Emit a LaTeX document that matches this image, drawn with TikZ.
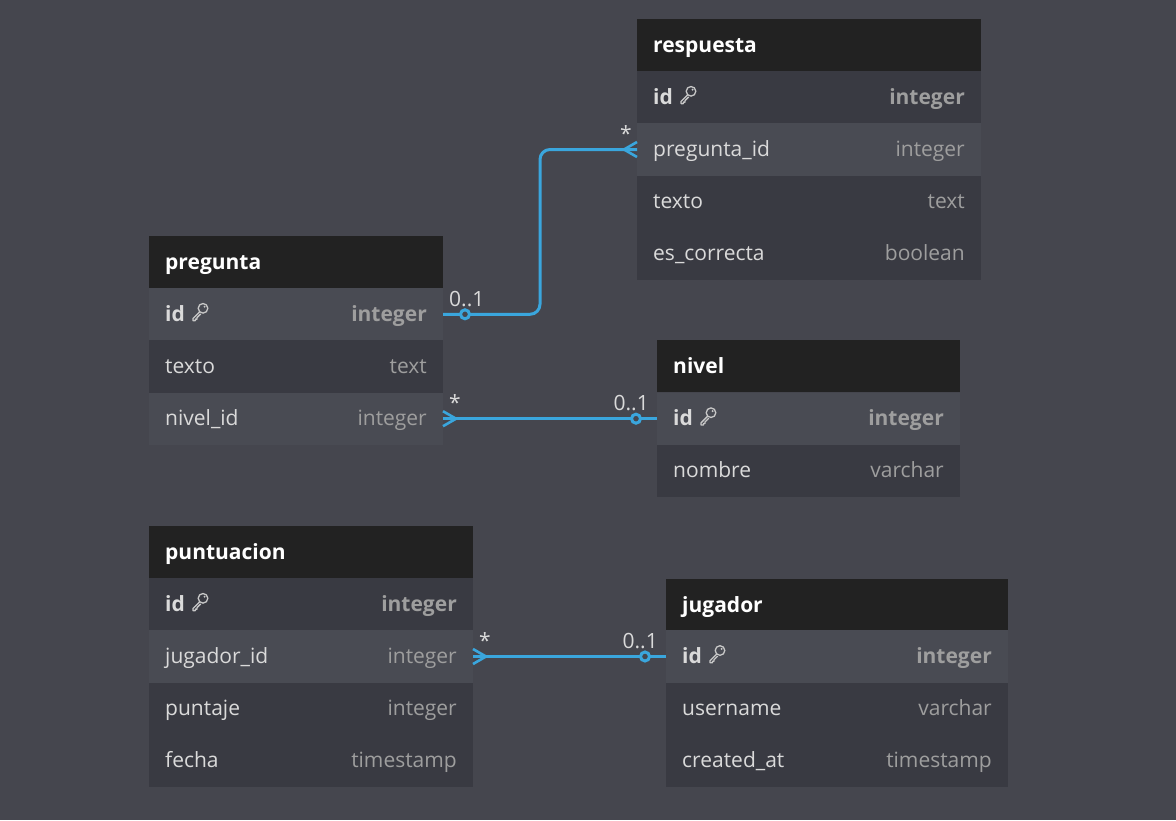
\documentclass[tikz,border=0pt]{standalone}
\usepackage{fontspec}
\setmainfont{Open Sans}
\usetikzlibrary{calc}
\definecolor{bg}{HTML}{45464E}
\definecolor{headfill}{HTML}{222222}
\definecolor{rowdark}{HTML}{393A42}
\definecolor{rowlight}{HTML}{494B53}
\definecolor{relblue}{HTML}{3AA6DD}
\definecolor{fieldtxt}{HTML}{DADADA}
\definecolor{typetxt}{HTML}{9E9E9E}
\definecolor{labtxt}{HTML}{DADADA}
\definecolor{keycol}{HTML}{C8C8C8}
\tikzset{
 x=1pt,y=-1pt,
 cellbox/.style={anchor=north west, minimum height=52.2pt, inner sep=0, outer sep=0, draw=none},
 headbox/.style={cellbox, fill=headfill},
 darkrow/.style={cellbox, fill=rowdark},
 lightrow/.style={cellbox, fill=rowlight},
 headtext/.style={anchor=base west, inner sep=0, text=white, font=\fontsize{21}{25}\selectfont\bfseries},
 fieldtext/.style={anchor=base west, inner sep=0, text=fieldtxt, font=\fontsize{21}{25}\selectfont},
 typetext/.style={anchor=base east, inner sep=0, text=typetxt, font=\fontsize{21}{25}\selectfont},
 pkfield/.style={fieldtext, font=\fontsize{21}{25}\selectfont\bfseries},
 pktype/.style={typetext, font=\fontsize{21}{25}\selectfont\bfseries},
 rel/.style={draw=relblue, line width=3pt},
 crow/.style={draw=relblue, line width=2.6pt, line join=miter},
 card/.style={inner sep=0, text=labtxt, font=\fontsize{21}{25}\selectfont},
 keyicon/.pic={
   \draw[keycol, line width=1.3pt] (12,-6) circle[radius=4.8pt];
   \fill[keycol] (13.6,-7.6) circle[radius=1.1pt];
   \draw[keycol, line width=1.3pt, line join=round, line cap=round] (8.6,-2.4) -- (2,4.2) -- (2,6.3) -- (4.4,6.3) -- (4.4,4.8) -- (6,4.8) -- (6,3.3) -- (9.6,-0.3);
 },
}
\newcommand\erhead[5]{%
 \node[headbox, minimum width=#4pt] (#1) at (#2,#3) {};
 \node[headtext] (#1-title) at ($(#1.west)+(16,7)$) {#5};}
\newcommand\errow[7]{%
 \node[#5, minimum width=#4pt] (#1) at (#2,#3) {};
 \node[fieldtext] (#1-name) at ($(#1.west)+(16,7)$) {#6};
 \node[typetext] (#1-type) at ($(#1.east)+(-16,7)$) {#7};}
\newcommand\pkrow[6]{%
 \node[#5, minimum width=#4pt] (#1) at (#2,#3) {};
 \node[pkfield] (#1-name) at ($(#1.west)+(16,7)$) {id};
 \pic at ($(#1.west)+(42,0)$) {keyicon};
 \node[pktype] (#1-type) at ($(#1.east)+(-16,7)$) {#6};}
\begin{document}
\begin{tikzpicture}
\fill[bg] (0,0) rectangle (1176,820);
\useasboundingbox (0,0) rectangle (1176,820);

% respuesta
\erhead{respuesta}{637}{19}{344}{respuesta}
\pkrow{respuesta-id}{637}{71.2}{344}{darkrow}{integer}
\errow{respuesta-pid}{637}{123.4}{344}{lightrow}{pregunta\_id}{integer}
\errow{respuesta-texto}{637}{175.6}{344}{darkrow}{texto}{text}
\errow{respuesta-es}{637}{227.8}{344}{darkrow}{es\_correcta}{boolean}

% pregunta
\erhead{pregunta}{149}{236}{294}{pregunta}
\pkrow{pregunta-id}{149}{288.2}{294}{lightrow}{integer}
\errow{pregunta-texto}{149}{340.4}{294}{darkrow}{texto}{text}
\errow{pregunta-nivel}{149}{392.6}{294}{lightrow}{nivel\_id}{integer}

% nivel
\erhead{nivel}{657}{340}{303}{nivel}
\pkrow{nivel-id}{657}{392.6}{303}{lightrow}{integer}
\errow{nivel-nombre}{657}{444.8}{303}{darkrow}{nombre}{varchar}

% puntuacion
\erhead{puntuacion}{149}{526}{324}{puntuacion}
\pkrow{puntuacion-id}{149}{578.2}{324}{darkrow}{integer}
\errow{puntuacion-jug}{149}{630.4}{324}{lightrow}{jugador\_id}{integer}
\errow{puntuacion-puntaje}{149}{682.6}{324}{darkrow}{puntaje}{integer}
\errow{puntuacion-fecha}{149}{734.8}{324}{darkrow}{fecha}{timestamp}

% jugador
\erhead{jugador}{666}{579}{342}{jugador}
\pkrow{jugador-id}{666}{630.4}{342}{lightrow}{integer}
\errow{jugador-user}{666}{682.6}{342}{darkrow}{username}{varchar}
\errow{jugador-created}{666}{734.8}{342}{darkrow}{created\_at}{timestamp}

% relation 1: pregunta.id -- respuesta.pregunta_id
\draw[rel, rounded corners=10pt] (pregunta-id.east) -| ($(pregunta-id.east)!0.5!(respuesta-pid.west)$) |- (respuesta-pid.west);
\draw[crow] ($(respuesta-pid.west)+(0,-7.5)$) -- ($(respuesta-pid.west)+(-13,0)$) -- ($(respuesta-pid.west)+(0,7.5)$);
\draw[rel, fill=bg] ($(pregunta-id.east)+(22,0)$) circle[radius=4.5pt];
\node[card, anchor=base west] (c1a) at ($(pregunta-id.east)+(6,-8)$) {0..1};
\node[card, anchor=base east] (c1b) at ($(respuesta-pid.west)+(-5,-8)$) {*};

% relation 2: pregunta.nivel_id -- nivel.id
\draw[rel] (pregunta-nivel.east) -- (nivel-id.west);
\draw[crow] ($(pregunta-nivel.east)+(0,-7.5)$) -- ($(pregunta-nivel.east)+(13,0)$) -- ($(pregunta-nivel.east)+(0,7.5)$);
\draw[rel, fill=bg] ($(nivel-id.west)+(-21,0)$) circle[radius=4.5pt];
\node[card, anchor=base west] (c2a) at ($(pregunta-nivel.east)+(6,-8)$) {*};
\node[card, anchor=base east] (c2b) at ($(nivel-id.west)+(-8,-8)$) {0..1};

% relation 3: puntuacion.jugador_id -- jugador.id
\draw[rel] (puntuacion-jug.east) -- (jugador-id.west);
\draw[crow] ($(puntuacion-jug.east)+(0,-7.5)$) -- ($(puntuacion-jug.east)+(13,0)$) -- ($(puntuacion-jug.east)+(0,7.5)$);
\draw[rel, fill=bg] ($(jugador-id.west)+(-21,0)$) circle[radius=4.5pt];
\node[card, anchor=base west] (c3a) at ($(puntuacion-jug.east)+(6,-8)$) {*};
\node[card, anchor=base east] (c3b) at ($(jugador-id.west)+(-8,-8)$) {0..1};
\end{tikzpicture}
\end{document}
